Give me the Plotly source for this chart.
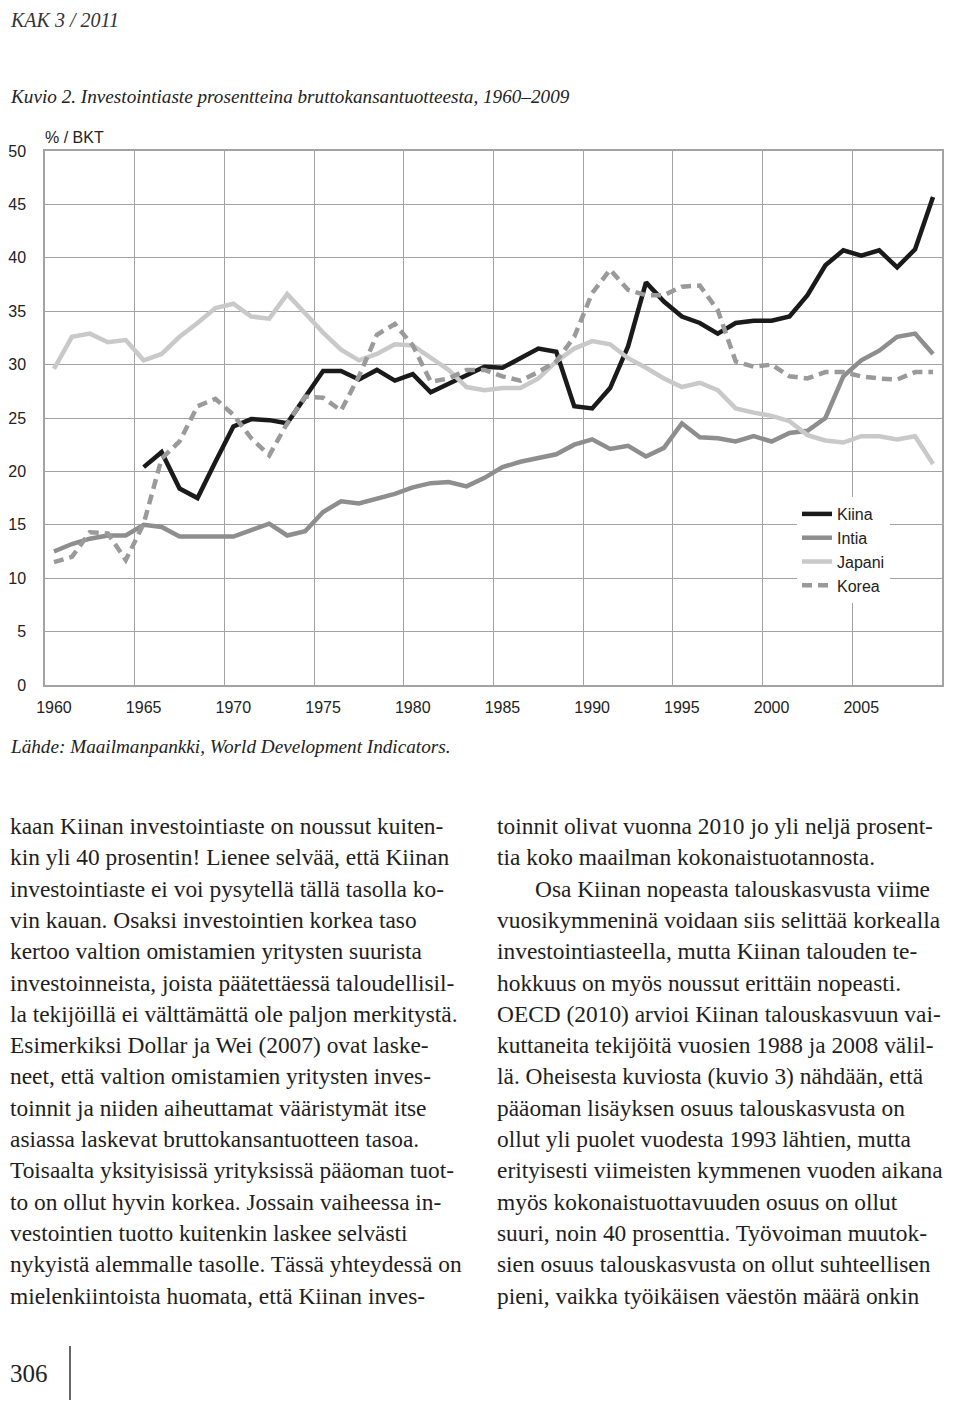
import plotly.graph_objects as go

# Investointiaste, % BKT:sta, 1960-2009 (luettu kuvasta)
years = list(range(1960, 2010))

kiina = [None, None, None, None, None,
         20.4, 21.8, 18.4, 17.5, 20.9, 24.2, 24.9, 24.8, 24.5, 27.0,
         29.4, 29.4, 28.6, 29.5, 28.5, 29.1, 27.4, 28.2, 29.0, 29.8,
         29.7, 30.6, 31.5, 31.2, 26.1, 25.9, 27.8, 31.7, 37.7, 35.9,
         34.5, 33.9, 32.9, 33.9, 34.1, 34.1, 34.5, 36.5, 39.3, 40.7,
         40.2, 40.7, 39.1, 40.8, 45.7]
intia = [12.5, 13.2, 13.7, 14.0, 14.0, 15.0, 14.8, 13.9, 13.9, 13.9,
         13.9, 14.5, 15.1, 14.0, 14.4, 16.2, 17.2, 17.0, 17.4, 17.9,
         18.5, 18.9, 19.0, 18.6, 19.4, 20.4, 20.9, 21.3, 21.6, 22.5,
         23.0, 22.1, 22.4, 21.4, 22.2, 24.5, 23.2, 23.1, 22.8, 23.3,
         22.8, 23.6, 23.8, 25.0, 28.9, 30.4, 31.3, 32.6, 32.9, 31.0]
japani = [29.6, 32.6, 32.9, 32.1, 32.3, 30.4, 31.0, 32.6, 33.9, 35.3,
          35.7, 34.5, 34.3, 36.6, 34.8, 33.0, 31.4, 30.4, 31.0, 31.9,
          31.8, 30.7, 29.5, 27.9, 27.6, 27.8, 27.8, 28.7, 30.3, 31.5,
          32.2, 31.9, 30.6, 29.7, 28.7, 27.9, 28.3, 27.6, 25.9, 25.5,
          25.2, 24.7, 23.4, 22.9, 22.7, 23.3, 23.3, 23.0, 23.3, 20.7]
korea = [11.5, 12.0, 14.3, 14.2, 11.7, 15.1, 21.2, 22.8, 26.1, 26.8,
         25.3, 23.1, 21.5, 24.5, 27.0, 26.9, 25.7, 28.9, 32.8, 33.8,
         31.8, 28.4, 28.7, 29.5, 29.5, 28.9, 28.5, 29.3, 30.3, 32.6,
         36.7, 38.9, 37.0, 36.5, 36.5, 37.3, 37.4, 35.1, 30.3, 29.8,
         30.0, 28.9, 28.7, 29.3, 29.3, 28.9, 28.7, 28.6, 29.3, 29.3]

x_labels = [1960, 1965, 1970, 1975, 1980, 1985, 1990, 1995, 2000, 2005]
y_ticks = [0, 5, 10, 15, 20, 25, 30, 35, 40, 45, 50]

left_lines = [
    "kaan Kiinan investointiaste on noussut kuiten-",
    "kin yli 40 prosentin! Lienee selvää, että Kiinan",
    "investointiaste ei voi pysytellä tällä tasolla ko-",
    "vin kauan. Osaksi investointien korkea taso",
    "kertoo valtion omistamien yritysten suurista",
    "investoinneista, joista päätettäessä taloudellisil-",
    "la tekijöillä ei välttämättä ole paljon merkitystä.",
    "Esimerkiksi Dollar ja Wei (2007) ovat laske-",
    "neet, että valtion omistamien yritysten inves-",
    "toinnit ja niiden aiheuttamat vääristymät itse",
    "asiassa laskevat bruttokansantuotteen tasoa.",
    "Toisaalta yksityisissä yrityksissä pääoman tuot-",
    "to on ollut hyvin korkea. Jossain vaiheessa in-",
    "vestointien tuotto kuitenkin laskee selvästi",
    "nykyistä alemmalle tasolle. Tässä yhteydessä on",
    "mielenkiintoista huomata, että Kiinan inves-",
]
right_lines = [
    "toinnit olivat vuonna 2010 jo yli neljä prosent-",
    "tia koko maailman kokonaistuotannosta.",
    "Osa Kiinan nopeasta talouskasvusta viime",
    "vuosikymmeninä voidaan siis selittää korkealla",
    "investointiasteella, mutta Kiinan talouden te-",
    "hokkuus on myös noussut erittäin nopeasti.",
    "OECD (2010) arvioi Kiinan talouskasvuun vai-",
    "kuttaneita tekijöitä vuosien 1988 ja 2008 välil-",
    "lä. Oheisesta kuviosta (kuvio 3) nähdään, että",
    "pääoman lisäyksen osuus talouskasvusta on",
    "ollut yli puolet vuodesta 1993 lähtien, mutta",
    "erityisesti viimeisten kymmenen vuoden aikana",
    "myös kokonaistuottavuuden osuus on ollut",
    "suuri, noin 40 prosenttia. Työvoiman muutok-",
    "sien osuus talouskasvusta on ollut suhteellisen",
    "pieni, vaikka työikäisen väestön määrä onkin",
]

# page is drawn inside the 8px body margin of the html page
M = 8
W, H = 960 - 2 * M, 1408 - 2 * M
def px(x):
    return (x - M) / W
def py(y):
    return 1 - (y - M) / H

fig = go.Figure()
series = [("Kiina", kiina, "#1a1a1a", "solid"),
          ("Intia", intia, "#8e8e8e", "solid"),
          ("Japani", japani, "#c9c9c9", "solid"),
          ("Korea", korea, "#9a9a9a", "10px,6px")]
for name, vals, col, dash in series:
    fig.add_trace(go.Scatter(x=years, y=vals, name=name, mode="lines",
                             legendgroup=name,
                             line=dict(color=col, width=4.5, dash=dash)))

grid = "#a3a3a3"
chart_font = dict(family="Liberation Sans, Arial", size=16, color="#222")
serif = "Liberation Serif, Times New Roman, serif"

fig.update_layout(
    width=W, height=H,
    margin=dict(l=0, r=0, t=0, b=0, autoexpand=False),
    paper_bgcolor="white", plot_bgcolor="white",
    showlegend=True,
    legend=dict(x=px(797), y=py(497), xanchor="left", yanchor="top",
                bgcolor="white", font=chart_font, traceorder="normal",
                tracegroupgap=2),
    xaxis=dict(domain=[px(45), px(942)], range=[1959.5, 2009.5], automargin=False,
               tickvals=x_labels, ticktext=[str(v) for v in x_labels],
               showgrid=False, zeroline=False, ticks="",
               showline=True, linecolor=grid, linewidth=1.5, mirror=True,
               ticklabelstandoff=7, tickfont=chart_font,
               minor=dict(tickmode="array",
                          tickvals=[v - 0.5 for v in x_labels[1:]],
                          showgrid=True, gridcolor=grid, gridwidth=1.3,
                          ticks="")),
    yaxis=dict(domain=[py(685), py(151)], range=[0, 50], automargin=False,
               tickvals=y_ticks, showgrid=True, gridcolor=grid, gridwidth=1.3,
               zeroline=True, zerolinecolor="#8a8a8a", zerolinewidth=3,
               showline=True, linecolor=grid, linewidth=1.5, mirror=True,
               ticks="", ticklabelstandoff=14, tickfont=chart_font),
)

ann = []
ann.append(dict(text="<i>KAK\u00a03\u00a0/\u00a02011</i>", x=px(8), y=py(20), xanchor="left",
                yanchor="middle", font=dict(family=serif, size=20, color="#333")))
ann.append(dict(text="<i>Kuvio 2. Investointiaste prosentteina bruttokansantuotteesta, 1960–2009</i>",
                x=px(8), y=py(97), xanchor="left", yanchor="middle",
                font=dict(family=serif, size=19.2, color="#222")))
ann.append(dict(text="% / BKT", x=px(43), y=py(138), xanchor="left", yanchor="middle",
                font=chart_font))
ann.append(dict(text="<i>Lähde: Maailmanpankki, World Development Indicators.</i>",
                x=px(8), y=py(746), xanchor="left", yanchor="middle",
                font=dict(family=serif, size=19.2, color="#222")))

body_font = dict(family=serif, size=23.4, color="#1e1e1e")
line_y0, line_dy = 826, 31.3
for i, t in enumerate(left_lines):
    ann.append(dict(text=t, x=px(8), y=py(line_y0 + i * line_dy), xanchor="left",
                    yanchor="middle", font=body_font))
for i, t in enumerate(right_lines):
    x0 = 533 if i == 2 else 495
    ann.append(dict(text=t, x=px(x0), y=py(line_y0 + i * line_dy), xanchor="left",
                    yanchor="middle", font=body_font))

ann.append(dict(text="306", x=px(8), y=py(1373), xanchor="left", yanchor="middle",
                font=dict(family=serif, size=25, color="#222")))

for a in ann:
    a.update(xref="paper", yref="paper", showarrow=False)
fig.update_layout(annotations=ann)

fig.add_shape(type="line", xref="paper", yref="paper",
              x0=px(70), x1=px(70), y0=py(1346), y1=0,
              line=dict(color="#333", width=1.5))

fig.write_html("out.html")
